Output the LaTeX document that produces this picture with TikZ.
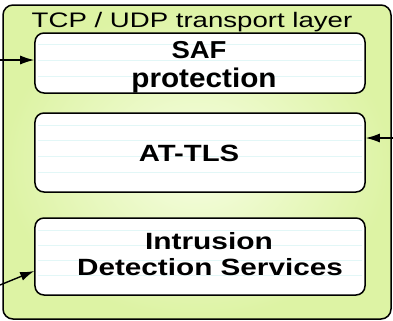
\documentclass[tikz,border=0pt]{standalone}
\usepackage{fontspec}
\setmainfont{Liberation Sans}
\usetikzlibrary{arrows.meta,calc}
\definecolor{greenout}{RGB}{221,243,164}
\definecolor{greenin}{RGB}{246,254,226}
\definecolor{stripecol}{RGB}{226,247,247}
\tikzset{
  layer/.style={draw=black, line width=1.5bp, rounded corners=10bp, inner color=greenin, outer color=greenout},
  innerbox/.style={draw=black, line width=1.5bp, rounded corners=9bp, fill=white, minimum width=330bp, inner sep=0pt},
  txt/.style={anchor=base, inner sep=0pt, font=\fontsize{10bp}{12bp}\selectfont},
  btxt/.style={txt, font=\fontsize{10bp}{12bp}\selectfont\bfseries},
  stripeline/.style={draw=stripecol, line width=0.8bp},
  conn/.style={line width=1.4bp, -{Latex[length=14bp,width=9bp]}}
}
\begin{document}
\begin{tikzpicture}[x=1bp,y=-1bp]
\useasboundingbox (0,0) rectangle (393,321);
\path[layer] (3,5) rectangle (391,319);
\node[txt] (title) at (192,27) {\scalebox{2.76}[2.1]{TCP / UDP transport layer}};
% inner boxes
\node[innerbox, minimum height=60bp] (saf) at (200,63) {};
\node[innerbox, minimum height=79bp] (attls) at (200,152.5) {};
\node[innerbox, minimum height=77bp] (ids) at (200,256.5) {};
% faint stripes
\foreach \yy in {44,60,76} \draw[stripeline] (38,\yy) -- (362,\yy);
\foreach \yy in {125,140,156,172} \draw[stripeline] (38,\yy) -- (362,\yy);
\foreach \yy in {230,245,260,275} \draw[stripeline] (38,\yy) -- (362,\yy);
% texts
\node[btxt] (saft) at (199,58) {\scalebox{2.75}[2.45]{SAF}};
\node[btxt] (prot) at (204,87.3) {\scalebox{2.97}[2.7]{protection}};
\node[btxt] (tlst) at (189,161) {\scalebox{2.93}[2.35]{AT-TLS}};
\node[btxt] (intr) at (209,249) {\scalebox{2.99}[2.35]{Intrusion}};
\node[btxt] (dets) at (210,275) {\scalebox{2.97}[2.35]{Detection Services}};
% connectors
\coordinate (safsrc) at (0,60);
\draw[conn] (safsrc) -- (safsrc -| saf.west);
\coordinate (tlssrc) at (393,138);
\draw[conn] (tlssrc) -- (tlssrc -| attls.east);
\coordinate (idssrc) at (0,285);
\draw[conn] (idssrc) -- ($(ids.west)+(0,14.5)$);
\end{tikzpicture}
\end{document}
